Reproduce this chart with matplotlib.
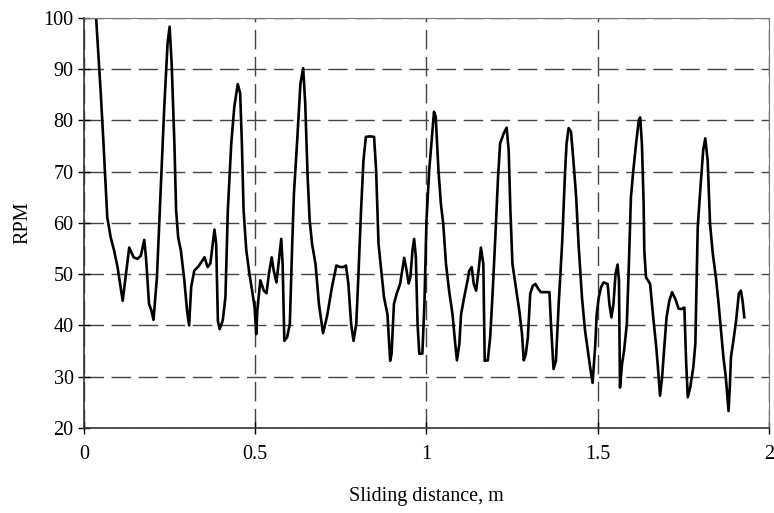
import matplotlib
matplotlib.use("Agg")
import matplotlib.pyplot as plt

# sliding distance (m) and rotational speed (RPM)
distance = [
    0.035, 0.049, 0.057, 0.068, 0.078, 0.088, 0.098, 0.107, 0.113, 0.119,
    0.132, 0.145, 0.156, 0.166, 0.176, 0.181, 0.190, 0.197, 0.203, 0.213,
    0.223, 0.234, 0.244, 0.250, 0.256, 0.264, 0.269, 0.275, 0.283, 0.293,
    0.301, 0.307, 0.313, 0.322, 0.334, 0.344, 0.352, 0.361, 0.369, 0.381,
    0.386, 0.391, 0.396, 0.405, 0.413, 0.420, 0.430, 0.439, 0.449, 0.456,
    0.461, 0.466, 0.474, 0.483, 0.493, 0.498, 0.503,
    0.506, 0.515, 0.525, 0.533, 0.540, 0.548, 0.554, 0.562, 0.569, 0.576,
    0.580, 0.585, 0.593, 0.601, 0.608, 0.613, 0.622, 0.632, 0.640, 0.646,
    0.653, 0.659, 0.666, 0.676, 0.686, 0.698, 0.710, 0.724, 0.737, 0.748,
    0.758, 0.765, 0.772, 0.780, 0.787, 0.795, 0.801, 0.809, 0.816, 0.823,
    0.835, 0.847, 0.853, 0.860, 0.869, 0.876, 0.886, 0.894, 0.898, 0.905,
    0.913, 0.923, 0.929, 0.935, 0.942, 0.948, 0.953, 0.959, 0.964, 0.969,
    0.974, 0.979, 0.988, 0.994, 1.000, 1.008, 1.016, 1.022, 1.027, 1.035,
    1.042, 1.049, 1.057, 1.066, 1.076, 1.084, 1.089, 1.096, 1.101, 1.110,
    1.120, 1.125, 1.132, 1.138, 1.145, 1.152, 1.159, 1.166, 1.170, 1.179,
    1.186, 1.193, 1.201, 1.209, 1.215, 1.225, 1.234, 1.240, 1.245, 1.251,
    1.261, 1.271, 1.279, 1.284, 1.290, 1.296, 1.303, 1.310, 1.318, 1.327,
    1.334, 1.347, 1.359, 1.364, 1.371, 1.378, 1.386, 1.396, 1.404, 1.409,
    1.415, 1.422, 1.429, 1.437, 1.444, 1.454, 1.463, 1.471, 1.478, 1.485,
    1.493, 1.497, 1.503, 1.510, 1.517, 1.529, 1.534, 1.540, 1.546, 1.552,
    1.558, 1.562, 1.565, 1.571, 1.577, 1.585, 1.591, 1.597, 1.604, 1.612,
    1.620, 1.624, 1.629, 1.634, 1.636, 1.641, 1.653, 1.662, 1.670, 1.675,
    1.682, 1.688, 1.695, 1.701, 1.709, 1.717, 1.727, 1.736, 1.744, 1.753,
    1.758, 1.763, 1.770, 1.779, 1.785, 1.792, 1.800, 1.808, 1.814, 1.821,
    1.828, 1.836, 1.845, 1.853, 1.860, 1.867, 1.874, 1.882, 1.886, 1.889,
    1.896, 1.904, 1.912, 1.918, 1.923, 1.928,
]
rpm = [
    100.5, 85.3, 75.5, 61.1, 57.2, 54.6, 51.4, 47.5, 44.8, 48.1,
    55.2, 53.3, 53.0, 53.6, 56.7, 53.3, 44.2, 42.9, 41.1, 49.4,
    65.1, 82.0, 95.0, 98.3, 91.1, 75.5, 62.5, 57.2, 54.6, 48.8,
    42.9, 40.0, 47.5, 50.7, 51.5, 52.5, 53.3, 51.4, 52.1, 58.7,
    55.9, 40.9, 39.3, 40.9, 45.5, 62.5, 75.5, 82.7, 87.1, 85.3,
    75.5, 62.5, 54.6, 50.1, 45.9, 43.6, 38.3,
    42.9, 48.8, 46.8, 46.3, 50.1, 53.3, 50.7, 48.4, 52.7, 56.9,
    52.0, 37.0, 37.7, 40.3, 55.9, 65.7, 75.5, 87.2, 90.2, 83.3,
    69.0, 60.5, 55.9, 52.0, 44.2, 38.5, 41.9, 47.5, 51.7, 51.4,
    51.4, 51.7, 48.1, 40.3, 37.0, 40.3, 49.4, 62.5, 72.2, 76.8,
    76.9, 76.8, 70.3, 55.9, 50.1, 45.5, 42.2, 33.1, 34.4, 44.2,
    46.2, 48.1, 50.7, 53.2, 50.7, 48.2, 49.4, 54.6, 56.9, 53.3,
    40.3, 34.5, 34.5, 44.2, 60.5, 70.3, 76.8, 81.7, 80.7, 70.3,
    63.8, 59.8, 52.0, 46.8, 42.2, 36.4, 33.2, 36.4, 42.2, 45.5,
    48.8, 50.7, 51.4, 48.1, 46.8, 50.7, 55.2, 52.0, 33.1, 33.2,
    37.7, 46.2, 57.2, 69.0, 75.5, 77.4, 78.6, 74.2, 62.5, 52.0,
    47.5, 42.9, 38.3, 33.2, 34.4, 37.7, 46.2, 47.7, 48.1, 47.1,
    46.5, 46.5, 46.5, 39.6, 31.5, 33.1, 44.2, 55.9, 69.0, 75.5,
    78.5, 77.8, 72.2, 65.1, 55.9, 45.5, 39.0, 35.1, 31.8, 28.8,
    36.4, 42.2, 45.5, 47.5, 48.4, 48.1, 44.2, 41.6, 44.2, 50.1,
    51.9, 48.8, 27.9, 32.5, 35.1, 40.3, 52.0, 65.1, 70.3, 75.5,
    80.1, 80.6, 75.5, 63.8, 54.6, 49.4, 48.1, 41.6, 36.4, 32.5,
    26.3, 29.9, 36.4, 41.6, 44.8, 46.5, 45.1, 43.3, 43.2, 43.5,
    33.1, 26.0, 27.9, 31.8, 36.4, 59.2, 67.0, 74.2, 76.5, 72.2,
    59.8, 54.0, 49.4, 44.2, 39.0, 33.8, 29.9, 23.3, 28.5, 33.8,
    37.0, 40.9, 46.2, 46.8, 44.8, 41.6,
]

x_ticks = [0, 0.5, 1, 1.5, 2]
x_tick_labels = ["0", "0.5", "1", "1.5", "2"]
y_ticks = [20, 30, 40, 50, 60, 70, 80, 90, 100]

plt.rcParams["font.family"] = ["Liberation Serif", "DejaVu Serif"]

fig = plt.figure(figsize=(7.74, 5.13), dpi=100)
ax = fig.add_axes([0.1085, 0.1657, 0.885, 0.7993])

ax.plot(distance, rpm, color="black", linewidth=1.9, clip_on=True)

ax.set_xlim(0, 2)
ax.set_ylim(20, 100)
ax.set_xticks(x_ticks)
ax.set_xticklabels(x_tick_labels)
ax.set_yticks(y_ticks)

# long dashes for the grid
ax.grid(True, color="#444444", linestyle=(0, (14, 5.5)), linewidth=1.0)
ax.set_axisbelow(True)

for side in ["left", "bottom"]:
    ax.spines[side].set_color("#333333")
    ax.spines[side].set_linewidth(1.2)
for side in ["top", "right"]:
    ax.spines[side].set_color("#777777")
    ax.spines[side].set_linewidth(0.8)

ax.tick_params(axis="both", direction="inout", length=8, width=1.0,
               labelsize=14.5, colors="black")
ax.tick_params(axis="x", pad=8)

ax.set_xlabel("Sliding distance, m", fontsize=14.5, labelpad=17)
ax.set_ylabel("RPM", fontsize=14.5, labelpad=8)

fig.savefig("out.png", dpi=100)
